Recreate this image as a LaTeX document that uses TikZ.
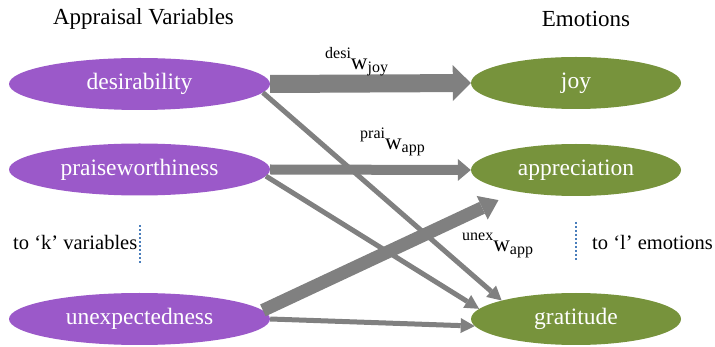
\documentclass[tikz,border=0pt]{standalone}
\usepackage{fontspec}
\setmainfont{Liberation Serif}
\usetikzlibrary{shapes.geometric,arrows.meta}
\definecolor{varviolet}{RGB}{155,89,201}
\definecolor{emoolive}{RGB}{119,147,60}
\definecolor{weightgray}{RGB}{128,128,128}
\definecolor{dotblue}{RGB}{74,126,187}
\newcommand{\wlab}[2]{{\fontsize{16}{16}\selectfont\raisebox{11pt}{#1}}w{\fontsize{16}{16}\selectfont\raisebox{-3pt}{#2}}}

\begin{document}
\begin{tikzpicture}[x=1pt, y=-1pt]
        \tikzstyle{vertex} = [shape = ellipse, inner sep = 0pt, minimum height = 52pt, text = white, font = \fontsize{23.5}{23.5}\selectfont]
        \tikzstyle{appraisal} = [vertex, fill = varviolet, minimum width = 261pt]
        \tikzstyle{emotion} = [vertex, fill = emoolive, minimum width = 210pt]
        \tikzstyle{title} = [font = \fontsize{23}{23}\selectfont]
        \tikzstyle{note} = [font = \fontsize{20.5}{20.5}\selectfont, anchor = base west, inner sep = 0pt]
        \tikzstyle{weight} = [anchor = base west, inner sep = 0pt, font = \fontsize{23}{23}\selectfont]
        \tikzstyle{thin} = [draw = weightgray, line width = 5pt, -{Triangle[width = 15pt, length = 14pt, line width = 0pt]}]
        \useasboundingbox (0, 0) rectangle (715, 347);
        \node[title] (T-1) at (143.5, 19) {Appraisal Variables};
        \node[title] (T-2) at (586, 19) {Emotions};
        \node[appraisal] (A-1) at (139.5, 84) {desirability};
        \node[appraisal] (A-2) at (139.5, 169.5) {praiseworthiness};
        \node[appraisal] (A-3) at (139.5, 319) {unexpectedness};
        \node[emotion] (E-1) at (576, 83) {joy};
        \node[emotion] (E-2) at (576, 170) {appreciation};
        \node[emotion] (E-3) at (576, 319) {gratitude};
        \node[note] (K) at (13, 250) {to ‘k’ variables};
        \node[note] (L) at (592, 250) {to ‘l’ emotions};
        \draw[dotblue, line width = 2pt, dash pattern = on 2pt off 2pt] (140, 225) -- (140, 263);
        \draw[dotblue, line width = 2pt, dash pattern = on 2pt off 2pt] (576, 222) -- (576, 260);
        \draw[thin] (A-1.-4) -- (E-3.166);
        \draw[thin] (A-2.-3) -- (E-3.174);
        \draw[thin] (A-3.east) -- (E-3.184);
        \draw[draw = weightgray, line width = 13pt, shorten > = 20pt, -{Triangle[width = 26pt, length = 18pt, line width = 0pt]}] (A-3.4) -- (E-2.200);
        \draw[draw = weightgray, line width = 10pt, -{Triangle[width = 22pt, length = 13pt, line width = 0pt]}] (A-2.east) -- (E-2.west);
        \draw[draw = weightgray, line width = 18pt, -{Triangle[width = 36pt, length = 18pt, line width = 0pt]}] (A-1.east) -- (E-1.west);
        \node[weight] (W-1) at (325, 70) {\wlab{desi}{joy}};
        \node[weight] (W-2) at (360, 150) {\wlab{prai}{app}};
        \node[weight] (W-3) at (462, 252) {\wlab{unex}{app}};
      \end{tikzpicture}
\end{document}
